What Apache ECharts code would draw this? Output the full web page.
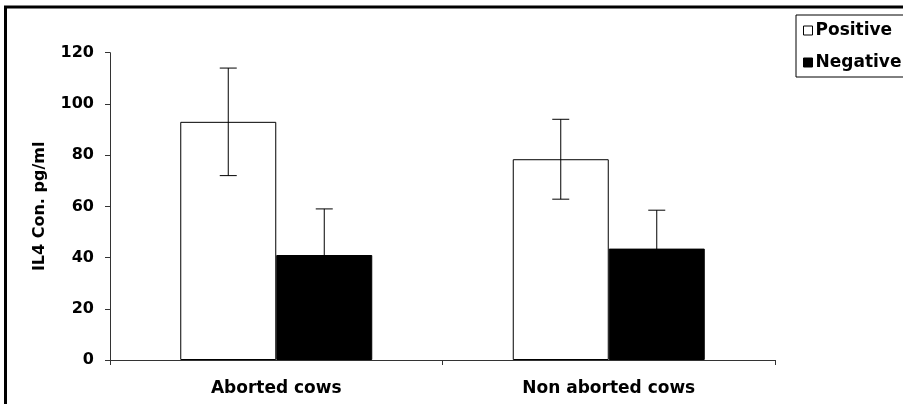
<!DOCTYPE html>
<html>
<head>
<meta charset="utf-8">
<script src="https://cdn.jsdelivr.net/npm/echarts@6/dist/echarts.min.js"></script>
<style>html,body{margin:0;padding:0;background:#fff}#c{width:903px;height:404px}</style>
</head>
<body>
<div id="c"></div>
<script>
const categories = ['Aborted cows', 'Non aborted cows'];
const seriesNames = ['Positive', 'Negative'];
const positive = [93, 78.4];
const positiveErr = [21, 15.6];
const negative = [41, 43.5];
const negativeErr = [18, 15];
const yTicks = [0, 20, 40, 60, 80, 100, 120];

const FONT = 'DejaVu Sans';
const chart = echarts.init(document.getElementById('c'), null, {renderer: 'canvas'});

function errSeries(vals, errs, offset) {
  return {
    type: 'custom',
    z: 10,
    silent: true,
    data: vals.map((v, i) => [i, v - errs[i], v + errs[i]]),
    renderItem: function (params, api) {
      const lo = api.coord([api.value(0), api.value(1)]);
      const hi = api.coord([api.value(0), api.value(2)]);
      const x = lo[0] + offset;
      const cap = 8.5;
      const st = {stroke: '#000', lineWidth: 1};
      return {
        type: 'group',
        children: [
          {type: 'line', shape: {x1: x, y1: lo[1], x2: x, y2: hi[1]}, style: st},
          {type: 'line', shape: {x1: x - cap, y1: lo[1], x2: x + cap, y2: lo[1]}, style: st},
          {type: 'line', shape: {x1: x - cap, y1: hi[1], x2: x + cap, y2: hi[1]}, style: st}
        ]
      };
    }
  };
}

chart.setOption({
  animation: false,
  backgroundColor: '#fff',
  textStyle: {fontFamily: FONT},
  graphic: [{
    type: 'rect',
    z: 100,
    silent: true,
    shape: {x: 5.5, y: 7, width: 2000, height: 2000},
    style: {fill: 'none', stroke: '#000', lineWidth: 3}
  }],
  legend: {
    data: [
      {name: seriesNames[0], itemStyle: {color: '#fff', borderColor: '#000', borderWidth: 1}},
      {name: seriesNames[1], itemStyle: {color: '#000', borderColor: '#000', borderWidth: 1}}
    ],
    orient: 'vertical',
    left: 796,
    top: 15,
    padding: [7, 8, 6, 7],
    itemGap: 15,
    itemWidth: 9,
    itemHeight: 9,
    icon: 'rect',
    borderColor: '#000',
    borderWidth: 1,
    textStyle: {fontFamily: FONT, fontWeight: 'bold', fontSize: 17, lineHeight: 17, color: '#000', padding: [0, 0, 0, -2]}
  },
  grid: {left: 110, right: 128, top: 52.7, bottom: 44, containLabel: false},
  xAxis: {
    type: 'category',
    data: categories,
    axisLine: {lineStyle: {color: '#333', width: 1}},
    axisTick: {show: true, length: 5, lineStyle: {color: '#333'}},
    axisLabel: {fontFamily: FONT, fontWeight: 'bold', fontSize: 17, color: '#000', margin: 20}
  },
  yAxis: {
    type: 'value',
    min: yTicks[0],
    max: yTicks[yTicks.length - 1],
    interval: yTicks[1] - yTicks[0],
    name: 'IL4 Con. pg/ml',
    nameLocation: 'middle',
    nameRotate: 90,
    nameGap: 62,
    nameTextStyle: {fontFamily: FONT, fontWeight: 'bold', fontSize: 16, color: '#000'},
    splitLine: {show: false},
    axisLine: {show: true, lineStyle: {color: '#333', width: 1}},
    axisTick: {show: true, length: 5, lineStyle: {color: '#333'}},
    axisLabel: {fontFamily: FONT, fontWeight: 'bold', fontSize: 16, color: '#000', margin: 16}
  },
  series: [
    {
      name: seriesNames[0], type: 'bar', data: positive, barWidth: 96, barGap: '0%',
      itemStyle: {color: '#fff', borderColor: '#000', borderWidth: 1}
    },
    {
      name: seriesNames[1], type: 'bar', data: negative, barWidth: 96, barGap: '0%',
      itemStyle: {color: '#000', borderColor: '#000', borderWidth: 1}
    },
    errSeries(positive, positiveErr, -48),
    errSeries(negative, negativeErr, 48)
  ]
});
</script>
</body>
</html>
